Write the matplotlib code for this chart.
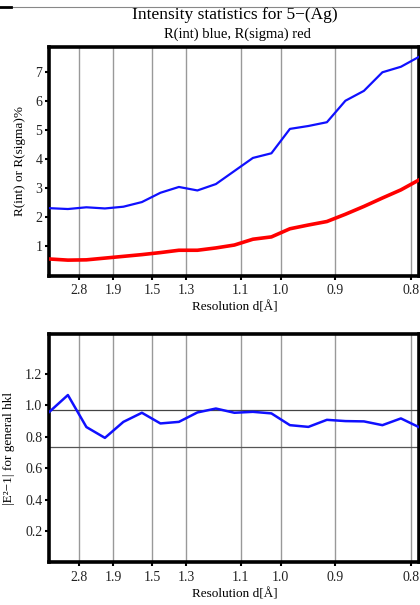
import matplotlib
matplotlib.use("Agg")
import matplotlib.pyplot as plt
from matplotlib.lines import Line2D

plt.rcParams['font.family'] = ['Liberation Serif', 'DejaVu Serif']

# bin centres in 1/d^2
inv_d2 = [0.00, 0.08, 0.16, 0.24, 0.32, 0.40, 0.48, 0.56, 0.64, 0.72, 0.80,
          0.88, 0.96, 1.04, 1.12, 1.20, 1.28, 1.36, 1.44, 1.52, 1.60]

r_int = [2.32, 2.29, 2.35, 2.31, 2.37, 2.53, 2.85, 3.05, 2.93, 3.15, 3.60,
         4.05, 4.21, 5.05, 5.15, 5.28, 6.02, 6.36, 7.00, 7.19, 7.54]
r_sigma = [0.57, 0.53, 0.54, 0.60, 0.66, 0.72, 0.79, 0.87, 0.87, 0.95, 1.05,
           1.25, 1.33, 1.61, 1.74, 1.86, 2.11, 2.38, 2.67, 2.95, 3.30]
e2_1 = [0.959, 1.066, 0.862, 0.793, 0.895, 0.953, 0.885, 0.895, 0.955, 0.980, 0.953,
        0.959, 0.949, 0.874, 0.863, 0.908, 0.900, 0.898, 0.874, 0.917, 0.860]

res_ticks = [2.8, 1.9, 1.5, 1.3, 1.1, 1.0, 0.9, 0.8]
res_labels = ['2.8', '1.9', '1.5', '1.3', '1.1', '1.0', '0.9', '0.8']

centro = 0.968
acentric = 0.736

fig = plt.figure(figsize=(4.2, 6.05), dpi=100)
ax1 = fig.add_axes([0.1176, 0.5446, 0.881, 0.3772])
ax2 = fig.add_axes([0.1176, 0.0706, 0.881, 0.3768])

tick_pos = [1 / d ** 2 for d in res_ticks]

for ax in (ax1, ax2):
    ax.set_xlim(0, 1.6)
    ax.set_xticks(tick_pos)
    ax.set_xticklabels(res_labels)
    for t in tick_pos:
        ax.axvline(t, color='#999999', lw=1.0, zorder=0)
    for s in ax.spines.values():
        s.set_linewidth(2.6)
        s.set_color('black')
    ax.tick_params(axis='both', direction='out', length=3, width=1.5,
                   labelsize=10, pad=2, colors='black', labelcolor='#222222')
    ax.tick_params(axis='x', length=3, pad=3)
    ax.set_xlabel('Resolution d[Å]', fontsize=9.5, labelpad=3)

# top panel
ax1.plot(inv_d2, r_int, color='#1010ff', lw=1.6, zorder=3)
ax1.plot(inv_d2, r_sigma, color='#ff0000', lw=2.6, zorder=3)
ax1.set_ylim(0, 7.86)
ax1.set_yticks([1, 2, 3, 4, 5, 6, 7])
ax1.set_ylabel('R(int) or R(sigma)%', fontsize=9.5, labelpad=7)

fig.text(0.56, 0.975, 'Intensity statistics for 5−(Ag)', ha='center', va='center',
         fontsize=12.5)
fig.text(0.565, 0.943, 'R(int) blue, R(sigma) red', ha='center', va='center',
         fontsize=10.5)

# bottom panel
ax2.axhline(centro, color='#444444', lw=0.9, zorder=1)
ax2.axhline(acentric, color='#555555', lw=0.9, zorder=1)
ax2.plot(inv_d2, e2_1, color='#1010ff', lw=1.8, zorder=3)
ax2.set_ylim(0, 1.453)
ax2.set_yticks([0.2, 0.4, 0.6, 0.8, 1.0, 1.2])
ax2.set_yticklabels(['0.2', '0.4', '0.6', '0.8', '1.0', '1.2'])
ax2.set_ylabel('|E²−1| for general hkl', fontsize=9.5, labelpad=7)

# page rule at the very top
fig.add_artist(Line2D([0, 1], [0.988, 0.988], transform=fig.transFigure,
                      color='#888888', lw=0.8))
fig.add_artist(Line2D([0, 0.026], [0.988, 0.988], transform=fig.transFigure,
                      color='black', lw=2.0))

fig.savefig('out.png', dpi=100)
